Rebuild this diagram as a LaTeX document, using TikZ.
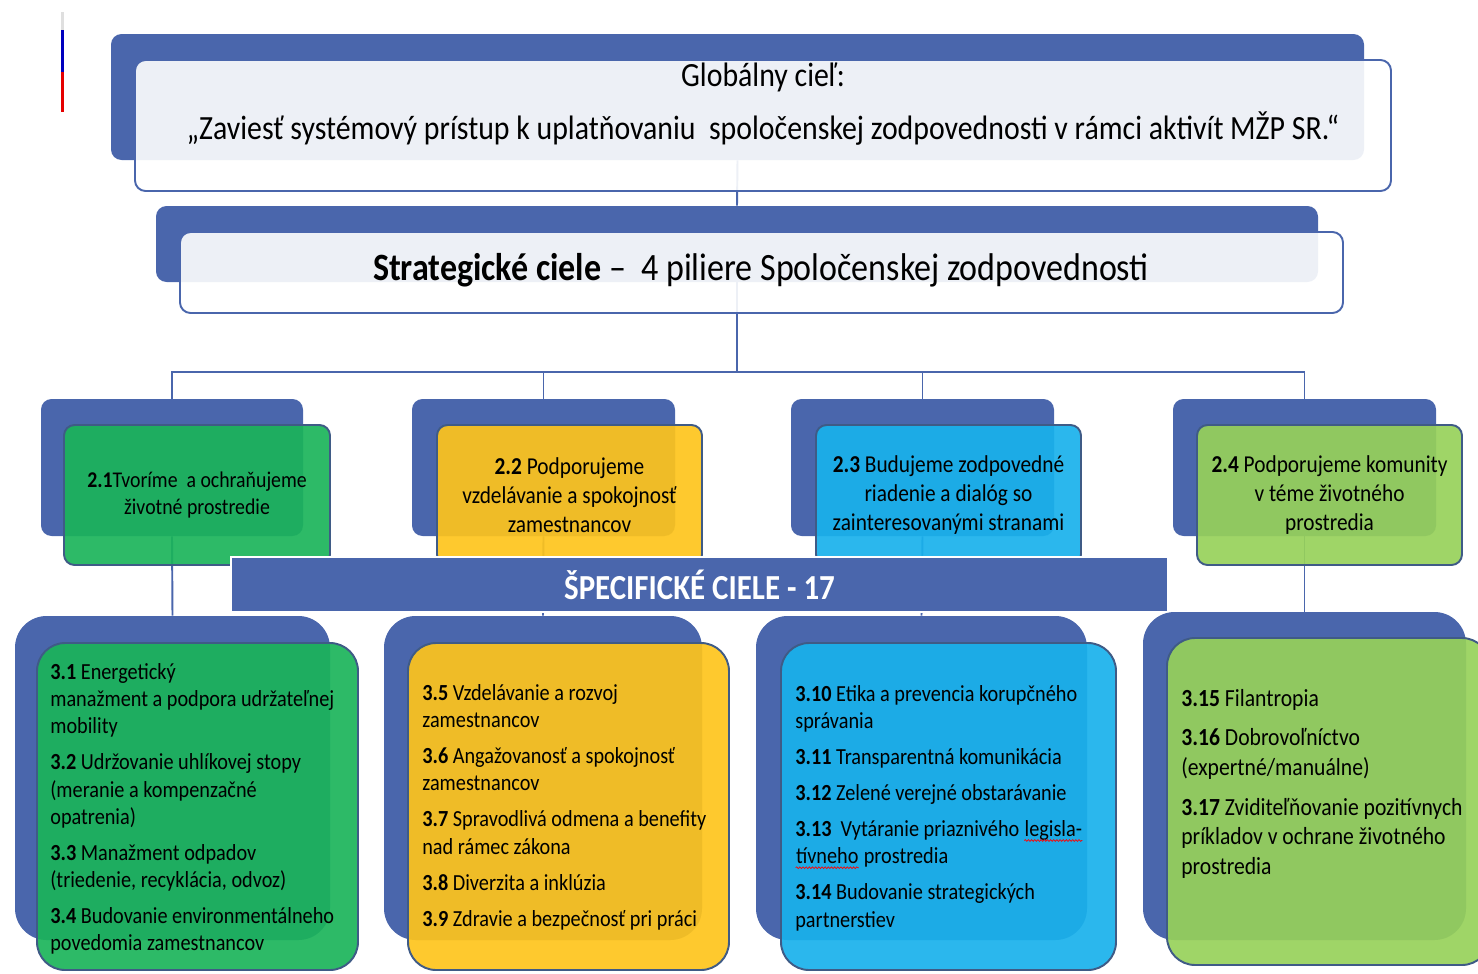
\documentclass[tikz,border=0pt]{standalone}
\usepackage{fontspec}
\setmainfont{Carlito}[FakeStretch=0.88]
\usepackage{tikz}
\usetikzlibrary{%
	fit,%
	backgrounds,%
	decorations.pathmorphing
}

\definecolor{pillarblue}{HTML}{4A66AC}
\definecolor{edgeblue}{HTML}{3F5B86}
\definecolor{envgreen}{HTML}{1BB45A}
\definecolor{staffyellow}{HTML}{FEC41C}
\definecolor{govblue}{HTML}{19B1EC}
\definecolor{commgreen}{HTML}{97D15A}

\newcommand{\goalfont}{\fontsize{19.3}{23}\selectfont}
\newcommand{\pillarfont}{\fontsize{13.8}{16.5}\selectfont}
\newcommand{\itemfont}{\fontsize{13.1}{15.5}\selectfont}
\newcommand{\spellerr}[1]{\tikz[baseline=(w.base)]{\node[inner sep=0pt, anchor=base] (w) at (0,0) {#1}; \draw[red, line width=0.4pt, decorate, decoration={snake, amplitude=0.5pt, segment length=1.8pt}] ([yshift=-2.2pt]w.base west) -- ([yshift=-2.2pt]w.base east);}}

\tikzset{
	backbox/.style={fill=pillarblue, inner sep=0pt, rounded corners=6pt},
	bigback/.style={backbox, rounded corners=18pt},
	headbox/.style={draw=pillarblue, line width=1.1pt, fill=white, fill opacity=0.9, inner sep=0pt, rounded corners=6pt},
	frontbox/.style={draw=edgeblue, line width=1.1pt, fill opacity=0.92, inner sep=0pt, rounded corners=6pt},
	bigfront/.style={frontbox, rounded corners=16pt},
	pillartext/.style={align=center, font=\pillarfont},
	itemtext/.style={anchor=north west, inner sep=0pt, align=left, font=\itemfont},
	link/.style={draw=pillarblue, line width=1.1pt}
}

\begin{document}
\begin{tikzpicture}[x=0.02cm, y=-0.02cm]
	\useasboundingbox (0,0) rectangle (1478,974);
	
	\fill[gray!25] (60.5,12) rectangle (63.5,30);
	\fill[blue!75!black] (60.5,30) rectangle (63.5,72);
	\fill[red!90!black] (60.5,72) rectangle (63.5,112);
	
	% global and strategic goal
	\node[backbox, fit={(111,34) (1364,160)}] (gback) {};
	\node[headbox, fit={(135,60) (1391,191)}] (gfront) {};
	\node[font=\goalfont, align=center] (gtext) at (763,104) {Globálny cieľ:\\[7pt]„Zaviesť systémový prístup k uplatňovaniu\ \ spoločenskej zodpovednosti v rámci aktivít MŽP SR.“};
	
	\node[backbox, fit={(156,206) (1318,282)}] (sback) {};
	\node[headbox, fit={(180,232) (1343,313)}] (sfront) {};
	\node[font=\fontsize{22}{26}\selectfont] (stext) at (761,270) {\textbf{Strategické ciele} –\ \ 4 piliere Spoločenskej zodpovednosti};
	
	% pillars
	\node[backbox, fit={(41,399) (303,536)}] (pback1) {};
	\node[backbox, fit={(412,399) (675,536)}] (pback2) {};
	\node[backbox, fit={(791,399) (1054,536)}] (pback3) {};
	\node[backbox, fit={(1173,399) (1436,536)}] (pback4) {};
	
	\node[frontbox, fill=envgreen, fit={(64,425) (330,565)}] (pfront1) {};
	\node[frontbox, fill=staffyellow, fit={(437,425) (702,565)}] (pfront2) {};
	\node[frontbox, fill=govblue, fit={(816,425) (1081,565)}] (pfront3) {};
	\node[frontbox, fill=commgreen, fit={(1197,425) (1462,565)}] (pfront4) {};
	
	\node[pillartext, font=\fontsize{12.8}{15}\selectfont] (ptext1) at (pfront1) {\textbf{2.1}Tvoríme\ \ a ochraňujeme\\životné prostredie};
	\node[pillartext] (ptext2) at (pfront2) {\textbf{2.2} Podporujeme\\vzdelávanie a spokojnosť\\zamestnancov};
	\node[pillartext] (ptext3) at (pfront3) {\textbf{2.3} Budujeme zodpovedné\\riadenie a dialóg so\\zainteresovanými stranami};
	\node[pillartext] (ptext4) at (pfront4) {\textbf{2.4} Podporujeme komunity\\v téme životného\\prostredia};
	
	\node[fill=pillarblue, draw=white, line width=1.2pt, inner sep=0pt, fit={(231,557) (1168,612)}] (banner) {};
	\node[text=white, font=\fontsize{20}{24}\selectfont\bfseries] (bantext) at (banner) {ŠPECIFICKÉ CIELE - 17};
	
	% specific goals
	\node[bigback, fit={(15,616) (330,940)}] (sback1) {};
	\node[bigback, fit={(384,616) (702,940)}] (sback2) {};
	\node[bigback, fit={(756,616) (1087,940)}] (sback3) {};
	\node[bigback, fit={(1143,612) (1466,940)}] (sback4) {};
	
	\node[bigfront, fill=envgreen, fit={(37,643) (358,970)}] (sfront1) {};
	\node[bigfront, fill=staffyellow, fit={(408,643) (729,970)}] (sfront2) {};
	\node[bigfront, fill=govblue, fit={(781,643) (1116,970)}] (sfront3) {};
	\node[bigfront, fill=commgreen, fit={(1167,638) (1490,965)}] (sfront4) {};
	
	\node[itemtext] (stext1) at (50,663) {\textbf{3.1} Energetický\\manažment a podpora udržateľnej\\mobility\\[5pt]\textbf{3.2} Udržovanie uhlíkovej stopy\\(meranie a kompenzačné\\opatrenia)\\[5pt]\textbf{3.3} Manažment odpadov\\(triedenie, recyklácia, odvoz)\\[5pt]\textbf{3.4} Budovanie environmentálneho\\povedomia zamestnancov};
	\node[itemtext] (stext2) at (422,684) {\textbf{3.5} Vzdelávanie a rozvoj\\zamestnancov\\[5pt]\textbf{3.6} Angažovanosť a spokojnosť\\zamestnancov\\[5pt]\textbf{3.7} Spravodlivá odmena a benefity\\nad rámec zákona\\[5pt]\textbf{3.8} Diverzita a inklúzia\\[5pt]\textbf{3.9} Zdravie a bezpečnosť pri práci};
	\node[itemtext] (stext3) at (795,685) {\textbf{3.10} Etika a prevencia korupčného\\správania\\[5pt]\textbf{3.11} Transparentná komunikácia\\[5pt]\textbf{3.12} Zelené verejné obstarávanie\\[5pt]\textbf{3.13}\ \ Vytáranie priaznivého \spellerr{legisla-}\\\spellerr{tívneho} prostredia\\[5pt]\textbf{3.14} Budovanie strategických\\partnerstiev};
	\node[itemtext, font=\fontsize{14}{16.8}\selectfont] (stext4) at (1181,689) {\textbf{3.15} Filantropia\\[5.7pt]\textbf{3.16} Dobrovoľníctvo\\(expertné/manuálne)\\[5.7pt]\textbf{3.17} Zviditeľňovanie pozitívnych\\príkladov v ochrane životného\\prostredia};
	
	\begin{scope}[on background layer]
		\coordinate (hub) at (737,372);
		\draw[link] (gback.south) -- (sback.north);
		\draw[link] (sback.south) -- (hub);
		\foreach \i in {1,...,4} {
			\draw[link] (hub) -| (pback\i.north);
			\draw[link] (pback\i.south) -- (sback\i.north);
		}
	\end{scope}
\end{tikzpicture}
\end{document}
